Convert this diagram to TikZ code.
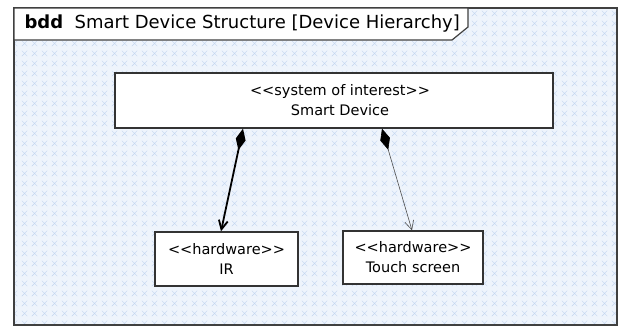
\documentclass[tikz,border=0pt]{standalone}
\usepackage{fontspec}
\setmainfont[Ligatures=TeXOff]{DejaVu Sans}
\usetikzlibrary{arrows.meta,patterns.meta}

\definecolor{bgblue}{RGB}{238,244,252}
\definecolor{hatchblue}{RGB}{196,214,240}

\tikzdeclarepattern{
  name=xmarks, type=uncolored,
  bottom left={(0pt,0pt)}, top right={(10pt,10pt)},
  tile size={(10pt,10pt)},
  code={\draw[line width=0.4pt] (2pt,2pt) -- (8pt,8pt) (2pt,8pt) -- (8pt,2pt);}
}

\tikzset{x=1pt, y=-1pt}
\tikzset{
  block/.style={draw=black!80, line width=1.3pt, fill=white, align=center,
    font=\fontsize{14.5}{20}\selectfont, inner sep=0pt},
  part/.style={{Diamond[length=22pt,width=10pt,black]}-{Straight Barb[length=9pt,width=9pt]}}
}

\begin{document}
\begin{tikzpicture}
\useasboundingbox (0,0) rectangle (620,327);
% frame and background
\fill[bgblue] (14,8) rectangle (617,325);
\fill[pattern=xmarks, pattern color=hatchblue] (14,8) rectangle (617,325);
\draw[black!75, line width=2pt] (14,8) rectangle (617,325);
\draw[black!75, line width=1.2pt, fill=white] (14,8) -- (468,8) -- (468,27) -- (452,40) -- (14,40) -- cycle;
\node[anchor=west, font=\fontsize{18}{20}\selectfont] (title) at (21,24)
  {\textbf{bdd}\ \ Smart Device Structure [Device Hierarchy]};

% blocks
\node[block, minimum width=438pt, minimum height=55pt] (device) at (334,100.5)
  {\hspace*{12pt}<<system of interest>>\\\hspace*{12pt}Smart Device};
\node[block, minimum width=143pt, minimum height=54pt] (ir) at (226.5,259)
  {<<hardware>>\\IR};
\node[block, minimum width=140pt, minimum height=53pt] (touch) at (413,257.5)
  {<<hardware>>\\Touch screen};

% composition
\draw[part, line width=1.8pt] ([xshift=-91pt]device.south) -- ([xshift=-5.5pt]ir.north);
\draw[part, line width=0.6pt, black!70] ([xshift=48pt]device.south) -- ([xshift=-1pt]touch.north);
\end{tikzpicture}
\end{document}
